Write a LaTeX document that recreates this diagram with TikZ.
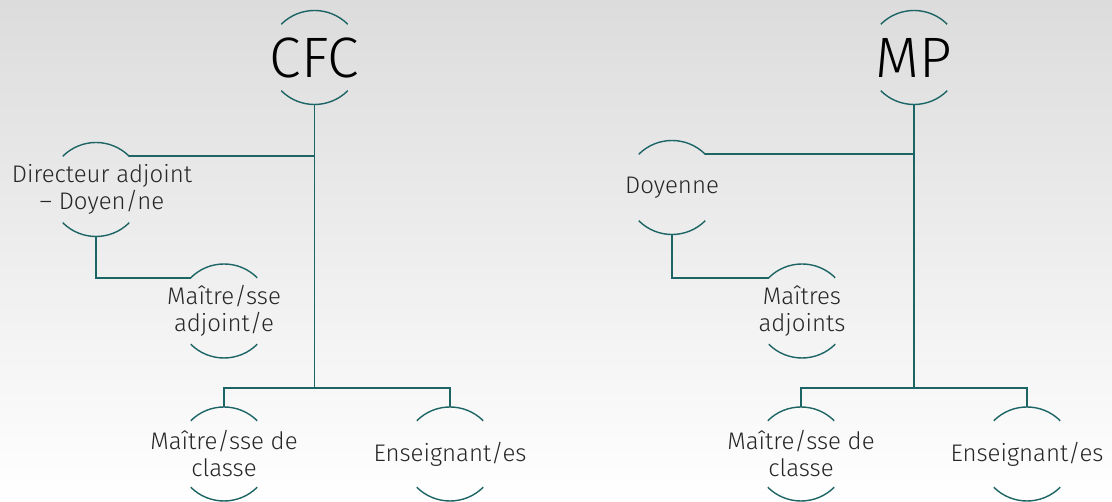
\documentclass[tikz,border=0pt]{standalone}
\usepackage{fontspec}
\setmainfont{Fira Sans}[UprightFont=* Light]
\usetikzlibrary{calc}
\definecolor{linecol}{HTML}{1D6464}
\definecolor{bgtop}{HTML}{DCDCDC}
\tikzset{
  role/.style={circle,minimum size=94pt,inner sep=0pt,outer sep=0pt},
  roletext/.style={align=center,text=black!85,font=\fontsize{24}{27}\selectfont},
  bigtext/.style={text=black,font=\fontsize{57}{60}\selectfont},
  link/.style={draw=linecol,line width=1.7pt},
  rim/.style={draw=linecol,line width=1.4pt}
}
\begin{document}
\begin{tikzpicture}[x=1pt,y=1pt]
      \shade[top color=bgtop,bottom color=white] (0,0) rectangle (1112,502);
      \useasboundingbox (0,0) rectangle (1112,502);
      % CFC
      \draw
        (314.5,444.5) node[role,label={[bigtext]center:CFC}] (cfc){}
        (96,312.5) node[role,label={[roletext,xshift=6pt]center:Directeur adjoint\\– Doyen/ne}] (dir){}
        (224,191) node[role,label={[roletext]center:Maître/sse\\adjoint/e}] (madj){}
        (224,48) node[role,label={[roletext]center:Maître/sse de\\classe}] (mcl){}
        (450,48) node[role,label={[roletext]center:Enseignant/es}] (ens){};
      % MP
      \draw
        (914,444.5) node[role,label={[bigtext]center:MP}] (mp){}
        (672,314.5) node[role,label={[roletext]center:Doyenne}] (doy){}
        (802,191) node[role,label={[roletext]center:Maîtres\\adjoints}] (madjb){}
        (801,48) node[role,label={[roletext]center:Maître/sse de\\classe}] (mclb){}
        (1027,48) node[role,label={[roletext]center:Enseignant/es}] (ensb){};
      \foreach \n in {cfc,dir,madj,mcl,ens,mp,doy,madjb,mclb,ensb} {
        \draw[rim] (\n.45) arc[start angle=45,end angle=135,radius=47pt];
        \draw[rim] (\n.225) arc[start angle=225,end angle=315,radius=47pt];
      }
      \begin{scope}[link]
        \coordinate (cfcfork) at ($(cfc.center)+(0,-330.5)$);
        \draw (cfc.south) -- (cfcfork);
        \draw (dir.45) -- (dir.45 -| cfc.south);
        \draw (dir.south) |- (madj.135);
        \draw (mcl.north) |- (cfcfork) -| (ens.north);
        \coordinate (mpfork) at ($(mp.center)+(0,-330.5)$);
        \draw (mp.south) -- (mpfork);
        \draw (doy.45) -- (doy.45 -| mp.south);
        \draw (doy.south) |- (madjb.135);
        \draw (mclb.north) |- (mpfork) -| (ensb.north);
      \end{scope}
    \end{tikzpicture}
\end{document}
